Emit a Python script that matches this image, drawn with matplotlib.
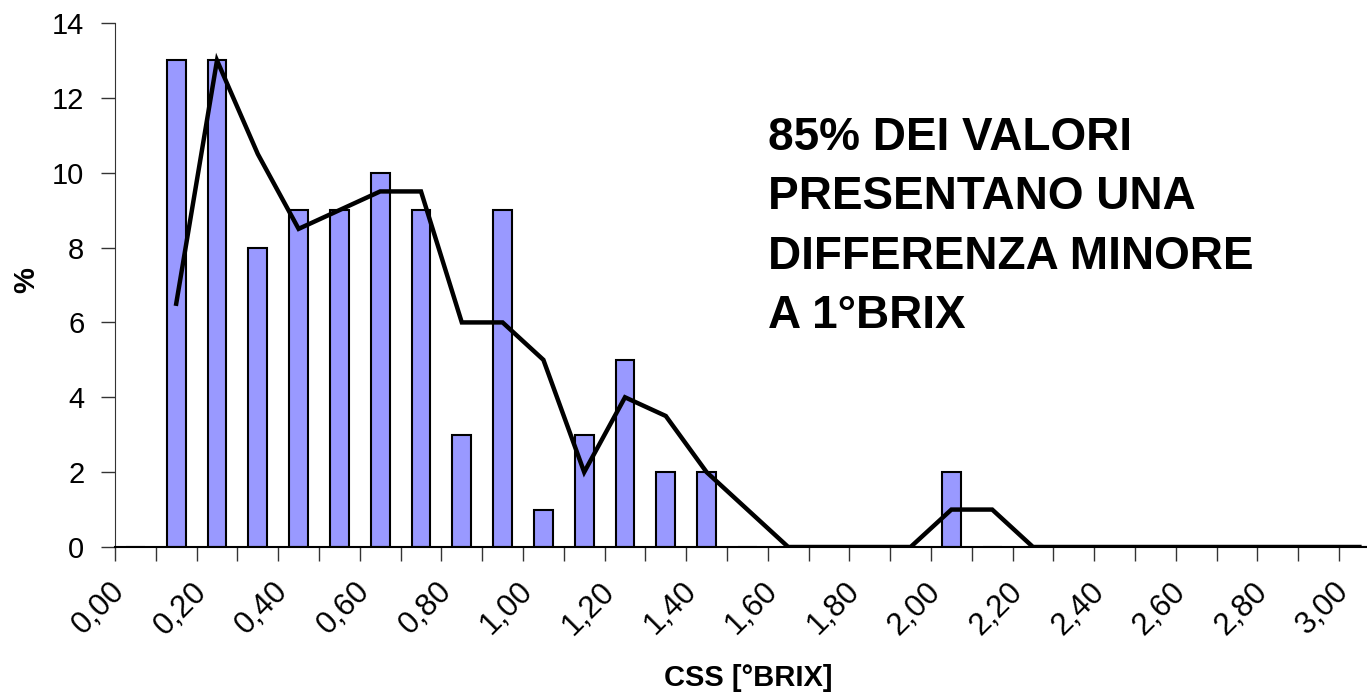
import matplotlib
matplotlib.use('Agg')
from matplotlib import pyplot as plt
from matplotlib.transforms import ScaledTranslation

plt.rcParams['font.family'] = ['Liberation Sans', 'DejaVu Sans']

# categorie asse x (differenza CSS, °Brix)
categories = ['0,00', '0,10', '0,20', '0,30', '0,40', '0,50', '0,60', '0,70',
              '0,80', '0,90', '1,00', '1,10', '1,20', '1,30', '1,40', '1,50',
              '1,60', '1,70', '1,80', '1,90', '2,00', '2,10', '2,20', '2,30',
              '2,40', '2,50', '2,60', '2,70', '2,80', '2,90', '3,00']
# frequenza percentuale (barre)
freq = [0, 13, 13, 8, 9, 9, 10, 9, 3, 9, 1, 3, 5, 2, 2, 0,
        0, 0, 0, 0, 2, 0, 0, 0, 0, 0, 0, 0, 0, 0, 0]
# media mobile (linea), parte da 0,10
trend_cats = categories[1:]
trend = [6.5, 13, 10.5, 8.5, 9, 9.5, 9.5, 6, 6, 5, 2, 4, 3.5, 2, 1,
         0, 0, 0, 0, 1, 1, 0, 0, 0, 0, 0, 0, 0, 0, 0]

yticks = [0, 2, 4, 6, 8, 10, 12, 14]

fig = plt.figure(figsize=(13.67, 6.94), dpi=100)
W, H = 1367, 694
ax = fig.add_axes([115 / W, (H - 547) / H, 31 * 40.8 / W, 524 / H])

x = list(range(len(categories)))
ax.bar(x, freq, width=0.46, color='#9999ff', edgecolor='black', linewidth=1.5, zorder=2)
xt = [categories.index(c) for c in trend_cats]
ax.plot(xt, trend, color='black', linewidth=3.2, zorder=3, solid_joinstyle='miter')

ax.set_xlim(-0.5, len(categories) - 0.5)
ax.set_ylim(0, 14)
ax.set_yticks(yticks)
ax.set_yticklabels([str(v) for v in yticks], fontsize=21)

# tacche ai bordi delle categorie, etichette ogni 0,20
ax.set_xticks([i - 0.5 for i in range(len(categories) + 1)])
ax.set_xticklabels([])
ax.set_xticks(x[::2], minor=True)
ax.set_xticklabels(categories[::2], minor=True, fontsize=22.5, rotation=45,
                   ha='right', va='center', rotation_mode='anchor')
ax.tick_params(axis='x', which='minor', length=0, pad=0)
ax.tick_params(axis='both', which='major', length=10, width=1, direction='out', color='#333333')
ax.tick_params(axis='y', pad=12)

shift = ScaledTranslation(-0.15, -0.40, fig.dpi_scale_trans)
for lab in ax.get_xticklabels(minor=True):
    lab.set_transform(lab.get_transform() + shift)

for s in ['top', 'right']:
    ax.spines[s].set_visible(False)
ax.spines['left'].set_color('#333333')
ax.spines['bottom'].set_color('black')
ax.spines['bottom'].set_linewidth(1.5)

fig.text(748 / W, 1 - 678 / H, 'CSS [°BRIX]', fontsize=21, fontweight='bold',
         ha='center', va='center')
fig.text(26 / W, 1 - 280 / H, '%', fontsize=21, fontweight='bold',
         ha='center', va='center', rotation=90)

fig.text(768 / W, 1 - 116 / H, '85% DEI VALORI\nPRESENTANO UNA\nDIFFERENZA MINORE\nA 1°BRIX',
         fontsize=33, fontweight='bold', ha='left', va='top', linespacing=1.45)

fig.savefig('out.png', dpi=100)
